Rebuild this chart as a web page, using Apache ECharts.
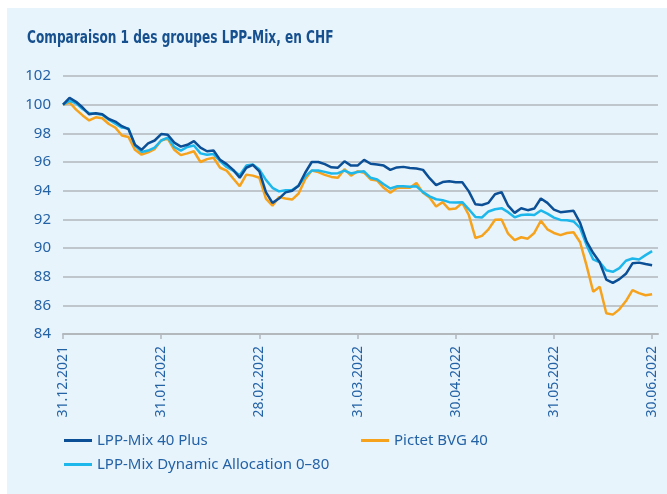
<!DOCTYPE html>
<html>
<head>
<meta charset="utf-8">
<script src="https://cdn.jsdelivr.net/npm/echarts@6/dist/echarts.min.js"></script>
<style>
  body { margin: 0; background: #ffffff; }
  #panel { position: absolute; left: 7px; top: 8px; width: 660px; height: 486px; background: #e8f4fb; }
  #chart { position: absolute; left: 0; top: 0; width: 667px; height: 494px; }
</style>
</head>
<body>
<div id="panel"></div>
<div id="chart"></div>
<script>
// month-end labels, 15 steps between each
const dateLabels = ["31.12.2021", "31.01.2022", "28.02.2022", "31.03.2022", "30.04.2022", "31.05.2022", "30.06.2022"];
const stepsPerMonth = 15;

const lppMix40Plus = [
  100.0, 100.47, 100.2, 99.8, 99.33, 99.4, 99.33, 99.0, 98.82, 98.5,
  98.3, 97.2, 96.85, 97.3, 97.5, 97.95, 97.9, 97.35, 97.07, 97.2,
  97.45, 97.0, 96.75, 96.8, 96.15, 95.85, 95.45, 94.9, 95.6, 95.8,
  95.35, 93.9, 93.15, 93.45, 93.88, 94.0, 94.35, 95.25, 96.0, 96.0,
  95.85, 95.63, 95.6, 96.05, 95.75, 95.75, 96.15, 95.88, 95.83, 95.75,
  95.45, 95.62, 95.66, 95.58, 95.55, 95.45, 94.87, 94.38, 94.6, 94.65,
  94.59, 94.58, 93.95, 93.05, 93.0, 93.15, 93.75, 93.9, 92.95, 92.45,
  92.77, 92.64, 92.75, 93.45, 93.15, 92.68, 92.5, 92.55, 92.6, 91.75,
  90.45, 89.65, 89.0, 87.8, 87.57, 87.83, 88.2, 88.93, 88.98, 88.88,
  88.8
];

const pictetBVG40 = [
  100.0, 100.15, 99.65, 99.25, 98.9, 99.12, 99.05, 98.65, 98.4, 97.85,
  97.75, 96.85, 96.51, 96.67, 96.9, 97.5, 97.63, 96.85, 96.48, 96.6,
  96.75, 96.0, 96.2, 96.3, 95.6, 95.4, 94.85, 94.31, 95.12, 95.05,
  94.9, 93.45, 92.95, 93.55, 93.45, 93.38, 93.8, 94.8, 95.4, 95.3,
  95.1, 94.96, 94.9, 95.5, 95.05, 95.35, 95.25, 94.78, 94.7, 94.2,
  93.85, 94.18, 94.22, 94.2, 94.54, 93.85, 93.52, 92.9, 93.2, 92.7,
  92.76, 93.15, 92.3, 90.7, 90.85, 91.3, 91.97, 91.99, 91.0, 90.55,
  90.75, 90.65, 91.05, 91.9, 91.3, 91.05, 90.9, 91.05, 91.1, 90.4,
  88.75, 86.95, 87.3, 85.45, 85.35, 85.72, 86.3, 87.06, 86.85, 86.7,
  86.77
];

const lppMixDynamic = [
  100.0, 100.27, 100.1, 99.7, 99.4, 99.37, 99.3, 98.95, 98.68, 98.4,
  98.33, 97.15, 96.7, 96.8, 97.0, 97.5, 97.7, 97.05, 96.8, 97.05,
  97.15, 96.6, 96.5, 96.55, 96.07, 95.65, 95.4, 95.08, 95.75, 95.82,
  95.47, 94.75, 94.2, 93.95, 94.03, 94.05, 94.35, 95.0, 95.4, 95.4,
  95.31, 95.2, 95.22, 95.4, 95.2, 95.3, 95.35, 94.9, 94.78, 94.45,
  94.15, 94.3, 94.31, 94.28, 94.3, 93.9, 93.6, 93.4, 93.34, 93.2,
  93.17, 93.2, 92.7, 92.17, 92.13, 92.55, 92.7, 92.78, 92.5, 92.14,
  92.3, 92.33, 92.3, 92.62, 92.4, 92.12, 91.96, 91.94, 91.85, 91.4,
  90.2, 89.2, 89.0, 88.45, 88.34, 88.6, 89.11, 89.27, 89.2, 89.5,
  89.78
];

const yTicks = [84, 86, 88, 90, 92, 94, 96, 98, 100, 102];

const labelBlue = "#2462a6";
const tickPositions = dateLabels.map((d, i) => i * stepsPerMonth);
const withIndex = arr => arr.map((v, i) => [i, v]);

var chart = echarts.init(document.getElementById("chart"));
var option = {
  backgroundColor: "transparent",
  animation: false,
  // title as graphic text so it can be squeezed like the condensed original font
  graphic: [
    {
      type: "text",
      x: 27,
      y: 38,
      scaleX: 0.75,
      style: {
        text: "Comparaison 1 des groupes LPP-Mix, en CHF",
        font: "bold 18px 'DejaVu Sans Condensed', 'DejaVu Sans', sans-serif",
        fill: "#16508f",
        textVerticalAlign: "middle",
      },
    },
  ],
  legend: [
    {
      data: ["LPP-Mix 40 Plus", "LPP-Mix Dynamic Allocation 0–80"],
      orient: "vertical",
      left: 64,
      top: 433,
      padding: 0,
      itemGap: 9,
      itemWidth: 28,
      itemHeight: 3,
      icon: "rect",
      textStyle: { color: labelBlue, fontSize: 15, fontFamily: "Noto Sans" },
    },
    {
      data: ["Pictet BVG 40"],
      left: 361,
      top: 433,
      padding: 0,
      itemWidth: 28,
      itemHeight: 3,
      icon: "rect",
      textStyle: { color: labelBlue, fontSize: 15, fontFamily: "Noto Sans" },
    },
  ],
  grid: {
    left: 63,
    right: 9,
    top: 76,
    bottom: 160,
    outerBoundsMode: "none",
  },
  xAxis: {
    type: "value",
    min: 0,
    max: 90.9,
    axisLine: { show: true, lineStyle: { color: "#b3b8bd", width: 2 } },
    axisTick: {
      show: true,
      length: 5,
      lineStyle: { color: "#b3b8bd", width: 1.5 },
      customValues: tickPositions,
    },
    axisLabel: {
      rotate: 90,
      margin: 12,
      color: labelBlue,
      fontSize: 14,
      fontFamily: "Noto Sans",
      customValues: tickPositions,
      formatter: v => dateLabels[Math.round(v / stepsPerMonth)],
    },
    splitLine: { show: false },
  },
  yAxis: {
    type: "value",
    min: yTicks[0],
    max: yTicks[yTicks.length - 1],
    interval: 2,
    axisLine: { show: false },
    axisTick: { show: false },
    axisLabel: { color: labelBlue, fontSize: 15, fontFamily: "Noto Sans", margin: 12 },
    splitLine: { lineStyle: { color: "#b3b8bd", width: 1.5 } },
  },
  series: [
    {
      name: "Pictet BVG 40",
      type: "line",
      data: withIndex(pictetBVG40),
      showSymbol: false,
      color: "#f6a21c",
      lineStyle: { width: 2.5 },
    },
    {
      name: "LPP-Mix Dynamic Allocation 0–80",
      type: "line",
      data: withIndex(lppMixDynamic),
      showSymbol: false,
      color: "#1db7ec",
      lineStyle: { width: 2.5 },
    },
    {
      name: "LPP-Mix 40 Plus",
      type: "line",
      data: withIndex(lppMix40Plus),
      showSymbol: false,
      color: "#0b4f96",
      lineStyle: { width: 2.5 },
    },
  ],
};
chart.setOption(option);
</script>
</body>
</html>
